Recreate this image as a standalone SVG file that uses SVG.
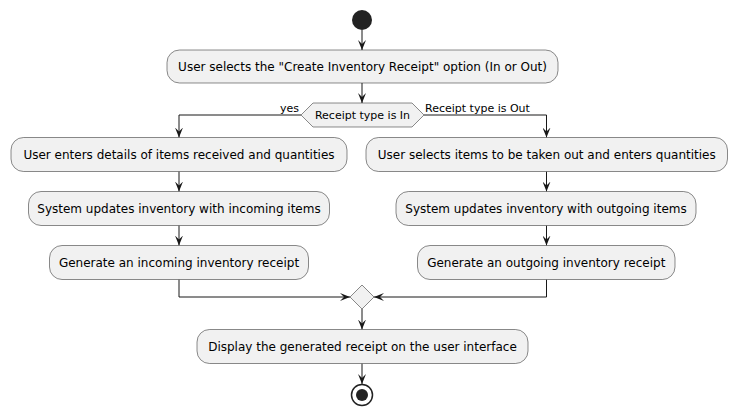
<svg xmlns="http://www.w3.org/2000/svg" width="737" height="415" viewBox="0 0 737 415">
<style>
.box{fill:#F1F1F1;stroke:#181818;stroke-width:0.5}
.t{font-family:"DejaVu Sans",sans-serif;font-size:12px;fill:#000;text-anchor:middle}
.s{font-family:"DejaVu Sans",sans-serif;font-size:11px;fill:#000}
.c{fill:none;stroke:#181818;stroke-width:1;marker-end:url(#ah)}
</style>
<defs>
<marker id="ah" markerUnits="userSpaceOnUse" viewBox="0 0 10 8" markerWidth="10" markerHeight="8" refX="10" refY="4" orient="auto">
<path d="M0,0 L10,4 L0,8 L4,4 Z" fill="#181818"/>
</marker>
</defs>
<rect width="737" height="415" fill="#FFFFFF"/>
<g id="connectors">
<path class="c" d="M362,30 L362,50"/>
<path class="c" d="M362,83 L362,103"/>
<path class="c" d="M301,115 L179,115 L179,137.5"/>
<path class="c" d="M424,115 L546.5,115 L546.5,137.5"/>
<path class="c" d="M179,171.5 L179,191.5"/>
<path class="c" d="M179,225.5 L179,245.5"/>
<path class="c" d="M546.5,171.5 L546.5,191.5"/>
<path class="c" d="M546.5,225.5 L546.5,245.5"/>
<path class="c" d="M179,279.5 L179,297 L350,297"/>
<path class="c" d="M546.5,279.5 L546.5,297 L374,297"/>
<path class="c" d="M362,309 L362,329.5"/>
<path class="c" d="M362,363.5 L362,384"/>
<text class="s" x="280" y="112">yes</text>
<text class="s" x="425" y="112">Receipt type is Out</text>
</g>
<g id="start"><circle cx="362" cy="20" r="10" fill="#222222"/></g>
<g id="n1"><rect class="box" x="167" y="50" width="391" height="33" rx="12.5"/><text class="t" x="362.5" y="71">User selects the "Create Inventory Receipt" option (In or Out)</text></g>
<g id="decision"><polygon class="box" points="301,115 313,103 412,103 424,115 412,127 313,127"/><text class="s" x="362.5" y="119" text-anchor="middle">Receipt type is In</text></g>
<g id="l1"><rect class="box" x="11" y="137.5" width="336" height="34" rx="12.5"/><text class="t" x="179" y="159">User enters details of items received and quantities</text></g>
<g id="l2"><rect class="box" x="28.5" y="191.5" width="301" height="34" rx="12.5"/><text class="t" x="179" y="213">System updates inventory with incoming items</text></g>
<g id="l3"><rect class="box" x="49.5" y="245.5" width="259" height="34" rx="12.5"/><text class="t" x="179" y="267">Generate an incoming inventory receipt</text></g>
<g id="r1"><rect class="box" x="366" y="137.5" width="361.5" height="34" rx="12.5"/><text class="t" x="546.75" y="159">User selects items to be taken out and enters quantities</text></g>
<g id="r2"><rect class="box" x="396" y="191.5" width="300" height="34" rx="12.5"/><text class="t" x="546" y="213">System updates inventory with outgoing items</text></g>
<g id="r3"><rect class="box" x="417.5" y="245.5" width="257.5" height="34" rx="12.5"/><text class="t" x="546.25" y="267">Generate an outgoing inventory receipt</text></g>
<g id="merge"><polygon class="box" points="362,285 374,297 362,309 350,297"/></g>
<g id="n2"><rect class="box" x="197" y="329.5" width="331" height="34" rx="12.5"/><text class="t" x="362.5" y="351">Display the generated receipt on the user interface</text></g>
<g id="end"><circle cx="362" cy="395" r="10.5" fill="none" stroke="#222222" stroke-width="1.5"/><circle cx="362" cy="395" r="6" fill="#222222"/></g>
</svg>
